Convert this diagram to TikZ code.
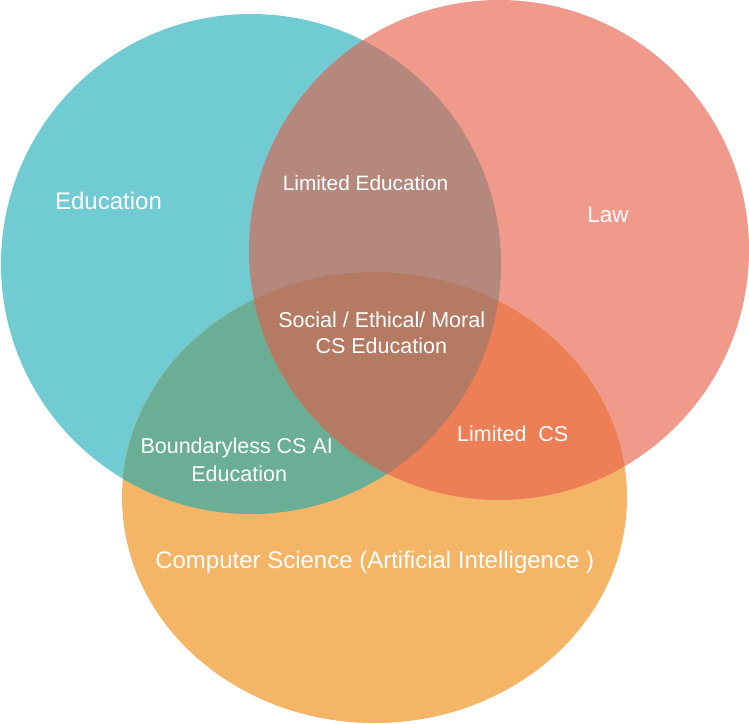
\documentclass[tikz,border=0pt]{standalone}
\usepackage{fontspec}
\setmainfont{Liberation Sans}
\definecolor{cEdu}{HTML}{70CBD2}
\definecolor{cLaw}{HTML}{F09A8C}
\definecolor{cCS}{HTML}{F4B566}
\definecolor{cEL}{HTML}{B5887D}
\definecolor{cEC}{HTML}{6BAE96}
\definecolor{cLC}{HTML}{ED7F56}
\definecolor{cELC}{HTML}{B57A63}
\tikzset{
  lbl/.style={text=white, anchor=base, inner sep=0pt, font=\fontsize{21.5}{26}\selectfont},
  biglbl/.style={lbl, font=\fontsize{24}{28}\selectfont},
}
\begin{document}
\begin{tikzpicture}[x=1pt,y=-1pt]
\useasboundingbox (0,0) rectangle (749,723);
\coordinate (ce) at (251,264);
\coordinate (cl) at (499,250);
\coordinate (cc) at (374.5,497.5);
\def\edupath{(ce) circle[radius=250]}
\def\lawpath{(cl) circle[radius=250]}
\def\cspath{(cc) ellipse[x radius=252.5, y radius=225.5]}
% single regions
\fill[cEdu] \edupath;
\fill[cLaw] \lawpath;
\fill[cCS] \cspath;
% pairwise overlaps
\begin{scope}
  \clip \edupath;
  \fill[cEL] \lawpath;
  \fill[cEC] \cspath;
\end{scope}
\begin{scope}
  \clip \lawpath;
  \fill[cLC] \cspath;
\end{scope}
% triple overlap
\begin{scope}
  \clip \edupath;
  \clip \lawpath;
  \fill[cELC] \cspath;
\end{scope}
% labels
\node[biglbl] (tedu) at (108.5,209) {Education};
\node[lbl, font=\fontsize{22.5}{26}\selectfont] (tlaw) at (608,222.3) {Law};
\node[lbl, font=\fontsize{20.8}{26}\selectfont] (tle) at (365.5,190) {Limited Education};
\node[lbl] (tsoc1) at (381.7,327.7) {Social / Ethical/ Moral};
\node[lbl] (tsoc2) at (381.3,353.3) {CS Education};
\node[lbl] (tlcs) at (512.8,441.7) {Limited\ \ CS};
\node[lbl] (tb1) at (236.7,453.3) {Boundaryless CS AI};
\node[lbl] (tb2) at (239.2,481) {Education};
\node[biglbl] (tcs) at (374.7,568.3) {Computer Science (Artificial Intelligence )};
\end{tikzpicture}
\end{document}
